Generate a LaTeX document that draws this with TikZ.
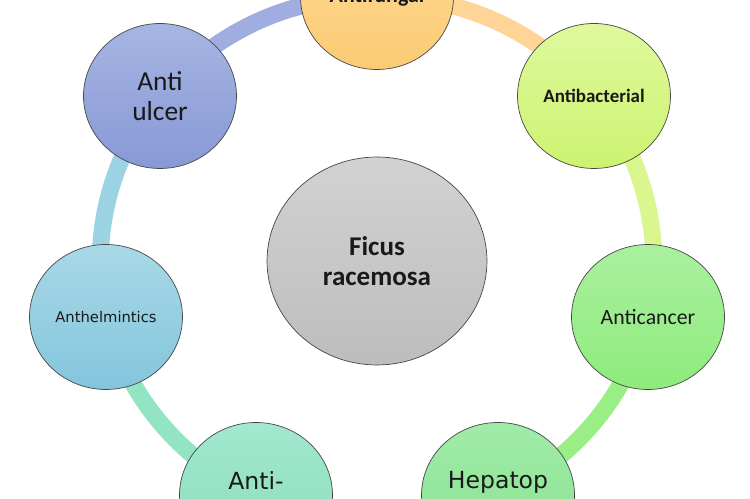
\documentclass[tikz,border=0pt]{standalone}
\usepackage{fontspec}
\setmainfont{Carlito}
\newfontfamily\dejavu{DejaVu Sans}
\usepackage{xcolor}
\usepackage{tikz}
\usetikzlibrary{shapes.geometric,backgrounds}

% petal shadings (top / bottom) and ring band colours
\definecolor{fungalT}{HTML}{FFDA98}\definecolor{fungalB}{HTML}{FBCB73}
\definecolor{bactT}{HTML}{DEF99D}\definecolor{bactB}{HTML}{CCF370}
\definecolor{cancerT}{HTML}{AAF0A0}\definecolor{cancerB}{HTML}{8EEB7C}
\definecolor{hepatoT}{HTML}{A0EBA8}\definecolor{hepatoB}{HTML}{88E290}
\definecolor{inflamT}{HTML}{A2E8CF}\definecolor{inflamB}{HTML}{88DCB8}
\definecolor{helmT}{HTML}{A8D9E7}\definecolor{helmB}{HTML}{84C5DC}
\definecolor{ulcerT}{HTML}{A7B5E2}\definecolor{ulcerB}{HTML}{8799D6}
\definecolor{hubT}{HTML}{D2D2D2}\definecolor{hubB}{HTML}{BDBDBD}
\definecolor{ulcerC}{HTML}{9FADE0}
\definecolor{fungalC}{HTML}{FFD597}
\definecolor{bactC}{HTML}{DAF68F}
\definecolor{cancerC}{HTML}{9AEE86}
\definecolor{hepatoC}{HTML}{9AE8A0}
\definecolor{inflamC}{HTML}{92E4C2}
\definecolor{helmC}{HTML}{9CD3E3}

\begin{document}
\begin{tikzpicture}[
  x=0.02cm, y=0.02cm,
  petal/.style={
    ellipse, draw=gray!55!black, line width=0.4pt,
    top color=#1T, bottom color=#1B,
    minimum width=3.06cm, minimum height=2.9cm, inner sep=0pt,
    align=center, text=black!90
  },
  hub/.style={
    ellipse, draw=gray!55!black, line width=0.4pt,
    top color=hubT, bottom color=hubB,
    minimum width=4.4cm, minimum height=4.16cm, inner sep=0pt,
    align=center, text=black!90,
    font=\fontsize{15.4}{17}\selectfont\bfseries
  },
  band/.style={line width=0.34cm, color=#1, bend left=25.7, looseness=0.9}
]
\useasboundingbox (0,0) rectangle (750,499);

% centre
\node[hub] (ficus) at (377,238) {Ficus\\racemosa};

% petals on the ring, clockwise from the top
\node[petal=fungal, font=\fontsize{12.5}{15}\selectfont\bfseries]
  (fungal) at (377,502) {Antifungal};
\node[petal=bact, font=\fontsize{10.8}{13}\selectfont\bfseries]
  (bact) at (594,403) {Antibacterial};
\node[petal=cancer, font=\fontsize{12.4}{15}\selectfont]
  (cancer) at (648,182) {Anticancer};
\node[petal=hepato, font=\dejavu\fontsize{13.4}{17}\selectfont]
  (hepato) at (498,4) {Hepatop\\\mbox{}};
\node[petal=inflam, font=\dejavu\fontsize{13.4}{17}\selectfont]
  (inflam) at (256,4) {Anti-\\\mbox{}};
\node[petal=helm, font=\dejavu\fontsize{8.4}{10}\selectfont]
  (helm) at (106,182) {Anthelmintics};
\node[petal=ulcer, font=\fontsize{15.6}{17}\selectfont]
  (ulcer) at (160,403) {Anti\\ulcer};

% ring segments behind the petals
\begin{scope}[on background layer]
\foreach \a/\b/\c in {ulcer/fungal/ulcerC, fungal/bact/fungalC,
  bact/cancer/bactC, cancer/hepato/cancerC, hepato/inflam/hepatoC,
  inflam/helm/inflamC, helm/ulcer/helmC} {
  \draw[band=\c] (\a.center) to (\b.center);
}
\end{scope}

\end{tikzpicture}
\end{document}
